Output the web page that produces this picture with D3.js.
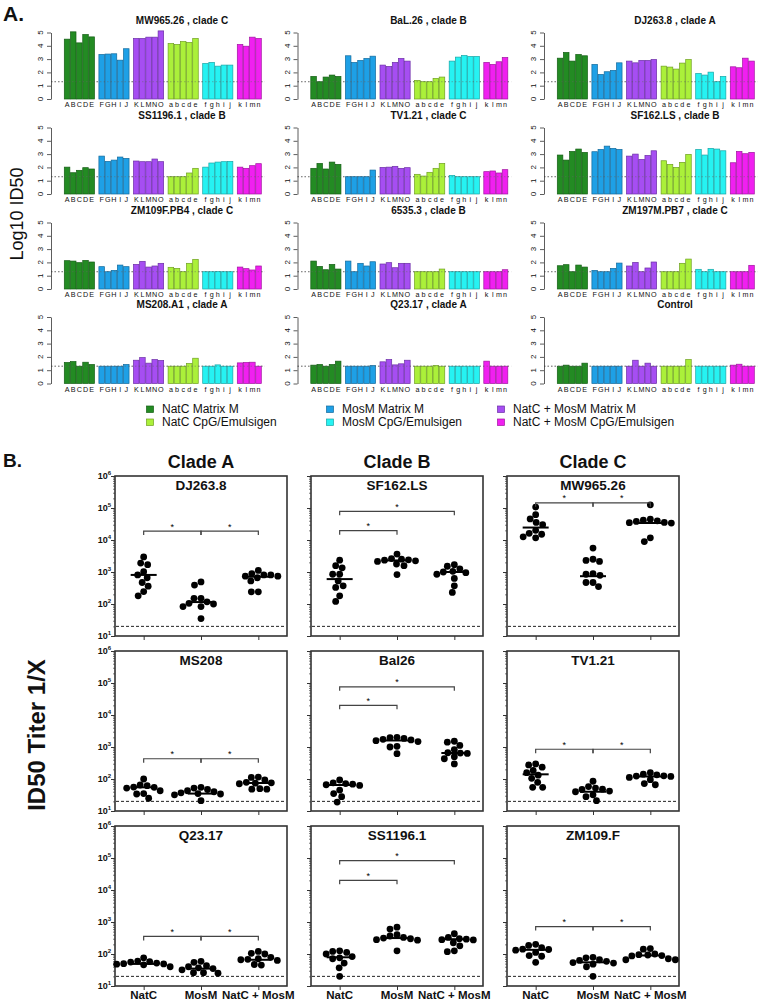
<!DOCTYPE html>
<html><head><meta charset="utf-8">
<script src="https://cdn.jsdelivr.net/npm/d3@7"></script>
<style>body{margin:0;background:#fff}svg{display:block;font-family:"Liberation Sans",Arial,sans-serif}</style>
</head><body>
<svg id="c" width="760" height="1004"></svg>
<script>
// ---------- Panel A data (log10 ID50) ----------
const panelATitles = ["MW965.26 , clade C","BaL.26 , clade B","DJ263.8 , clade A","SS1196.1 , clade B","TV1.21 , clade C","SF162.LS , clade B","ZM109F.PB4 , clade C","6535.3 , clade B","ZM197M.PB7 , clade C","MS208.A1 , clade A","Q23.17 , clade A","Control"];
const groupNames = ["NatC Matrix M","MosM Matrix M","NatC + MosM Matrix M","NatC CpG/Emulsigen","MosM CpG/Emulsigen","NatC + MosM CpG/Emulsigen"];
const barLetters = [["A","B","C","D","E"],["F","G","H","I","J"],["K","L","M","N","O"],["a","b","c","d","e"],["f","g","h","i","j"],["k","l","m","n"]];
const groupColors = ["#238B23","#1EA0E6","#A64EF2","#ABF03A","#26F2F2","#F020F0"];
const groupStroke = ["#155e15","#136a9c","#6c2ea6","#6fa020","#17a5a6","#a0149f"];
const mw965 = [[4.5,5.05,4.22,4.85,4.67],[3.35,3.38,3.4,2.92,3.78],[4.55,4.55,4.65,4.65,5.12],[4.17,4.1,4.32,4.25,4.55],[2.67,2.75,2.47,2.55,2.55],[4.1,3.97,4.65,4.55]];
const bal26 = [[1.7,1.3,1.65,1.8,1.7],[3.25,2.75,2.9,3.05,3.22],[2.55,2.45,2.75,3.05,2.85],[1.4,1.3,1.3,1.55,1.65],[2.85,3.15,3.27,3.2,3.2],[2.75,2.6,2.8,3.12]];
const dj263 = [[3.07,3.5,2.85,3.35,3.25],[2.6,1.85,2.05,2.15,2.72],[2.85,2.72,2.9,2.9,2.97],[2.47,2.4,2.25,2.7,2.97],[1.92,1.8,2.02,1.3,1.7],[2.42,2.35,3.07,2.85]];
const ss1196 = [[2.02,1.6,1.78,1.98,1.88],[2.85,2.45,2.55,2.78,2.68],[2.48,2.43,2.43,2.63,2.43],[1.3,1.3,1.3,1.58,1.93],[2.02,2.33,2.4,2.43,2.45],[2.02,1.93,2.13,2.28]];
const tv121 = [[1.93,2.3,1.88,2.4,2.23],[1.3,1.3,1.3,1.3,1.8],[2.0,2.02,2.08,1.93,1.98],[1.48,1.35,1.63,1.93,2.3],[1.4,1.3,1.3,1.3,1.3],[1.68,1.73,1.58,1.83]];
const sf162 = [[2.93,2.55,3.2,3.38,3.13],[3.18,3.35,3.6,3.43,3.35],[2.85,3.0,2.6,2.9,3.25],[2.5,2.23,2.0,2.38,2.98],[3.35,2.93,3.43,3.38,3.25],[2.35,3.2,3.03,3.13]];
const zm109 = [[2.13,2.1,1.98,2.15,2.03],[1.68,1.3,1.4,1.8,1.68],[1.85,2.08,1.65,1.73,1.93],[1.63,1.55,1.3,1.93,2.23],[1.3,1.3,1.32,1.3,1.3],[1.65,1.53,1.43,1.73]];
const v6535 = [[2.1,1.7,1.45,1.85,1.5],[2.1,1.3,1.93,1.73,2.05],[1.88,1.98,1.6,1.93,1.93],[1.3,1.3,1.3,1.3,1.5],[1.3,1.3,1.3,1.3,1.3],[1.3,1.3,1.3,1.45]];
const zm197 = [[1.75,1.83,1.3,1.8,1.65],[1.4,1.3,1.3,1.55,1.95],[1.73,2.0,1.3,1.58,2.03],[1.3,1.3,1.3,1.93,2.25],[1.48,1.3,1.48,1.3,1.3],[1.3,1.3,1.3,1.78]];
const ms208a1 = [[1.58,1.65,1.3,1.6,1.43],[1.3,1.3,1.3,1.3,1.43],[1.75,1.95,1.53,1.8,1.73],[1.3,1.3,1.3,1.5,1.9],[1.3,1.3,1.4,1.3,1.3],[1.55,1.58,1.6,1.3]];
const q2317 = [[1.38,1.43,1.3,1.43,1.68],[1.3,1.3,1.3,1.3,1.35],[1.63,1.8,1.4,1.48,1.75],[1.3,1.3,1.3,1.35,1.3],[1.3,1.3,1.3,1.3,1.3],[1.68,1.3,1.3,1.3]];
const control = [[1.3,1.38,1.3,1.3,1.53],[1.3,1.3,1.3,1.3,1.3],[1.3,1.75,1.3,1.53,1.3],[1.3,1.3,1.3,1.3,1.8],[1.3,1.3,1.3,1.3,1.3],[1.38,1.45,1.3,1.3]];
const panelAData = [mw965,bal26,dj263,ss1196,tv121,sf162,zm109,v6535,zm197,ms208a1,q2317,control];
const cutoffLog = 1.3;

// ---------- Panel B data (ID50 titer 1/X) ----------
const bCategories = ["NatC","MosM","NatC + MosM"];
const cladeTitles = ["Clade A","Clade B","Clade C"];
const bTitles = ["DJ263.8","SF162.LS","MW965.26","MS208","Bal26","TV1.21","Q23.17","SS1196.1","ZM109.F"];
const dj_NatC=[2950,1900,1700,1020,810,660,470,360,245,180], dj_MosM=[490,390,150,150,117,105,100,83,83,35], dj_Both=[1120,890,810,810,740,740,660,525,240,240];
const sf_NatC=[2350,1580,1350,850,850,525,370,330,180,120], sf_MosM=[3630,2630,2510,2400,2340,2240,2140,1780,1580,830], sf_Both=[1700,1510,1260,1050,1000,955,850,630,370,230];
const mw_NatC=[107000,61700,45700,35500,30200,20000,16200,15100,12600,11700], mw_MosM=[5600,2500,2300,2140,890,850,790,470,470,350], mw_Both=[126000,44700,41700,39800,38000,35500,34700,33900,11700,8900];
const ms_NatC=[100,65,62,56,55,52,43,35,34,25], ms_MosM=[55,52,47,43,40,37,35,34,32,21], ms_Both=[115,112,93,79,76,74,71,50,48,48];
const bal_NatC=[93,76,72,69,66,63,45,35,28,19], bal_MosM=[2000,1950,1860,1740,1660,1580,1480,1050,1000,620], bal_Both=[1510,1410,1120,830,660,645,630,500,430,295];
const tv_NatC=[295,275,235,186,158,132,105,79,55,55], tv_MosM=[85,58,52,48,47,42,40,32,28,21], tv_Both=[158,141,135,126,123,120,112,95,72,66];
const q23_NatC=[76,60,58,56,52,50,49,48,46,40], q23_MosM=[59,55,43,40,37,35,32,26,26,25], q23_Both=[120,105,100,79,71,68,66,63,47,45];
const ss_NatC=[126,120,112,100,83,76,71,52,37,20], ss_MosM=[690,600,400,365,330,315,300,280,270,126], ss_Both=[430,330,300,290,280,275,225,180,126,118];
const zm_NatC=[200,186,158,141,138,132,112,89,85,55], zm_MosM=[79,76,66,63,59,54,52,48,40,20], zm_Both=[148,141,100,95,93,89,87,71,66,66];
const bValues = [[dj_NatC,dj_MosM,dj_Both],[sf_NatC,sf_MosM,sf_Both],[mw_NatC,mw_MosM,mw_Both],[ms_NatC,ms_MosM,ms_Both],[bal_NatC,bal_MosM,bal_Both],[tv_NatC,tv_MosM,tv_Both],[q23_NatC,q23_MosM,q23_Both],[ss_NatC,ss_MosM,ss_Both],[zm_NatC,zm_MosM,zm_Both]];
const bMedians = [[810,115,710],[600,2300,1000],[24500,740,34000],[55,35,75],[65,1600,650],[140,40,120],[49,35,66],[79,315,290],[135,55,90]];
// significance brackets: [plot index, from category, to category, level]
const sigBrackets = [[0,0,1,19000],[0,1,2,19000],[1,0,1,19500],[1,0,2,79000],[2,0,1,145000],[2,1,2,145000],[3,0,1,430],[3,1,2,430],[4,0,1,20000],[4,0,2,76000],[5,0,1,850],[5,1,2,850],[6,0,1,355],[6,1,2,355],[7,0,1,20000],[7,0,2,83000],[8,0,1,720],[8,1,2,720]];
const detectionLimit = 20;

// ---------- drawing ----------
const svg = d3.select("#c");
const ink = "#111";

svg.append("text").attr("x",3).attr("y",21).attr("font-size",21).attr("font-weight","bold").attr("fill",ink).text("A.");
svg.append("text").attr("transform","translate(23,214) rotate(-90)").attr("text-anchor","middle").attr("font-size",18).attr("fill",ink).text("Log10 ID50");

const colA = [64, 310.5, 557];
const baseA = [99, 194, 289, 383.5];
const unitH = 13.3, groupStep = 34.6, barW = 6.15, groupGap = groupStep - 5*barW;

panelAData.forEach((vals, p) => {
  const r = Math.floor(p/3), c = p%3;
  const x0 = colA[c], yb = baseA[r];
  const g = svg.append("g");
  const y = d3.scaleLinear().domain([0,5]).range([yb, yb - 5*unitH]);
  const gx = d3.scaleBand().domain(d3.range(6)).range([x0, x0 + 6*groupStep - groupGap]).paddingInner(groupGap/groupStep).paddingOuter(0);
  const bx = d3.scaleBand().domain(d3.range(5)).range([0, gx.bandwidth()]);
  const ax = x0 - 13;
  const xEnd = gx(5) + bx(3) + bx.bandwidth();
  g.append("line").attr("x1",ax).attr("x2",xEnd+3).attr("y1",y(cutoffLog)).attr("y2",y(cutoffLog))
    .attr("stroke","#888").attr("stroke-width",1).attr("stroke-dasharray","1.5,2");
  vals.forEach((grp, gi) => {
    g.selectAll(null).data(grp).join("rect")
      .attr("x",(d,i)=>gx(gi)+bx(i)+0.3).attr("width",bx.bandwidth()-0.6)
      .attr("y",d=>y(d)).attr("height",d=>yb-y(d))
      .attr("fill",groupColors[gi]).attr("stroke",groupStroke[gi]).attr("stroke-width",0.7);
    g.selectAll(null).data(barLetters[gi]).join("text")
      .attr("x",(d,i)=>gx(gi)+bx(i)+bx.bandwidth()/2).attr("y",yb+8)
      .attr("text-anchor","middle").attr("font-size",7.2).attr("fill",ink).text(d=>d);
  });
  g.append("line").attr("x1",ax).attr("x2",xEnd+3).attr("y1",y(cutoffLog)).attr("y2",y(cutoffLog))
    .attr("stroke","#666").attr("stroke-opacity",0.45).attr("stroke-width",1).attr("stroke-dasharray","1.5,2");
  const axis = d3.axisLeft(y).ticks(5).tickSize(4).tickSizeOuter(0).tickFormat("");
  const ag = g.append("g").attr("transform",`translate(${ax},0)`).call(axis);
  ag.selectAll("path,line").attr("stroke","#333").attr("stroke-width",0.8);
  ag.selectAll("text").remove();
  y.ticks(5).forEach(t => {
    g.append("text").attr("transform",`translate(${ax-8},${y(t)}) rotate(-90)`).attr("text-anchor","middle")
      .attr("font-size",8).attr("fill",ink).text(t);
  });
  g.append("text").attr("x",x0+118).attr("y",yb-75.5).attr("text-anchor","middle")
    .attr("font-size",10).attr("font-weight","bold").attr("fill",ink).text(panelATitles[p]);
});

// legend
const legX = [150, 330, 501], legY = [409, 422];
groupNames.forEach((n,i) => {
  const cx = legX[i%3], cy = legY[Math.floor(i/3)];
  svg.append("rect").attr("x",cx-3.5).attr("y",cy-3).attr("width",7).attr("height",6.5)
    .attr("fill",groupColors[i]).attr("stroke",groupStroke[i]).attr("stroke-width",0.7);
  svg.append("text").attr("x",cx+12).attr("y",cy+4.3).attr("font-size",12).attr("fill",ink).text(n);
});

// ---------- Panel B ----------
svg.append("text").attr("x",3).attr("y",467).attr("font-size",19).attr("font-weight","bold").attr("fill",ink).text("B.");
svg.append("text").attr("transform","translate(45,735) rotate(-90)").attr("text-anchor","middle")
  .attr("font-size",24).attr("font-weight","bold").attr("fill",ink).text("ID50 Titer 1/X");

const bLeft = [115, 311, 507], bW = 172, bTop = [476, 651, 826], bH = 160;
cladeTitles.forEach((t,i)=>{
  svg.append("text").attr("x",bLeft[i]+bW/2).attr("y",468).attr("text-anchor","middle")
    .attr("font-size",18).attr("font-weight","bold").attr("fill",ink).text(t);
});

function swarm(vals, y, cx, d) {
  const pts = vals.map(v=>({v, py:y(v)})).sort((a,b)=>a.py-b.py);
  const placed = [];
  pts.forEach(p => {
    for (let k=0;k<200;k++){
      const off = (k%2===1?-1:1)*Math.ceil(k/2)*0.5;
      const ok = placed.every(q => (q.px-(cx+off))**2 + (q.py-p.py)**2 >= d*d);
      if (ok) { p.px = cx+off; break; }
    }
    placed.push(p);
  });
  return placed;
}

bValues.forEach((groups, k) => {
  const r = Math.floor(k/3), c = k%3;
  const L = bLeft[c], T = bTop[r], B = T + bH;
  const g = svg.append("g");
  const y = d3.scaleLog().domain([10,1e6]).range([B,T]);
  const x = d3.scalePoint().domain(bCategories).range([L, L+bW]).padding(0.5);
  const minors = [];
  for (let e=1;e<6;e++) for (let m=2;m<10;m++) minors.push(m*10**e);
  g.append("g").attr("transform",`translate(${L},0)`)
    .call(d3.axisLeft(y).tickValues(minors).tickSize(2).tickFormat("").tickSizeOuter(0))
    .call(s=>{s.select(".domain").remove(); s.selectAll("line").attr("stroke","#444").attr("stroke-width",0.7);});
  g.append("g").attr("transform",`translate(${L},0)`)
    .call(d3.axisLeft(y).tickValues([10,100,1e3,1e4,1e5,1e6]).tickSize(4).tickFormat("").tickSizeOuter(0))
    .call(s=>{s.select(".domain").remove(); s.selectAll("line").attr("stroke","#333").attr("stroke-width",1);});
  g.append("g").attr("transform",`translate(0,${B})`)
    .call(d3.axisBottom(x).tickSize(4).tickFormat("").tickSizeOuter(0))
    .call(s=>{s.select(".domain").remove(); s.selectAll("line").attr("stroke","#333").attr("stroke-width",1);});
  if (c===0) {
    [1,2,3,4,5,6].forEach(e=>{
      const t = g.append("text").attr("x",L-4).attr("y",y(10**e)+3).attr("text-anchor","end")
        .attr("font-size",9).attr("font-weight","bold").attr("fill",ink);
      t.append("tspan").text("10");
      t.append("tspan").attr("dy",-4).attr("font-size",6).text(e);
    });
  }
  g.append("rect").attr("x",L).attr("y",T).attr("width",bW).attr("height",bH)
    .attr("fill","none").attr("stroke","#333").attr("stroke-width",1.6);
  g.append("text").attr("x",L+bW/2).attr("y",T+14).attr("text-anchor","middle")
    .attr("font-size",13.5).attr("font-weight","bold").attr("fill",ink).text(bTitles[k]);
  g.append("line").attr("x1",L+1).attr("x2",L+bW-1).attr("y1",y(detectionLimit)).attr("y2",y(detectionLimit))
    .attr("stroke","#222").attr("stroke-width",1).attr("stroke-dasharray","3,2");
  groups.forEach((vals, gi) => {
    const cx = x(bCategories[gi]);
    const pts = swarm(vals, y, cx, 6.8);
    g.selectAll(null).data(pts).join("circle").attr("cx",d=>d.px).attr("cy",d=>d.py).attr("r",3.4).attr("fill","#000");
    g.append("line").attr("x1",cx-13).attr("x2",cx+13).attr("y1",y(bMedians[k][gi])).attr("y2",y(bMedians[k][gi]))
      .attr("stroke","#000").attr("stroke-width",2);
  });
  sigBrackets.filter(b=>b[0]===k).forEach(b=>{
    const x1 = x(bCategories[b[1]]), x2 = x(bCategories[b[2]]), yy = y(b[3]);
    g.append("path").attr("d",`M${x1},${yy+4}V${yy}H${x2}V${yy+4}`).attr("fill","none")
      .attr("stroke","#444").attr("stroke-width",1.2);
    g.append("text").attr("x",(x1+x2)/2).attr("y",yy-1.5).attr("text-anchor","middle")
      .attr("font-size",9).attr("fill","#000").text("*");
  });
  if (r===2) {
    bCategories.forEach(cat=>{
      g.append("text").attr("x",x(cat)).attr("y",B+13).attr("text-anchor","middle")
        .attr("font-size",11.5).attr("font-weight","bold").attr("fill",ink).text(cat);
    });
  }
});
</script></body></html>
